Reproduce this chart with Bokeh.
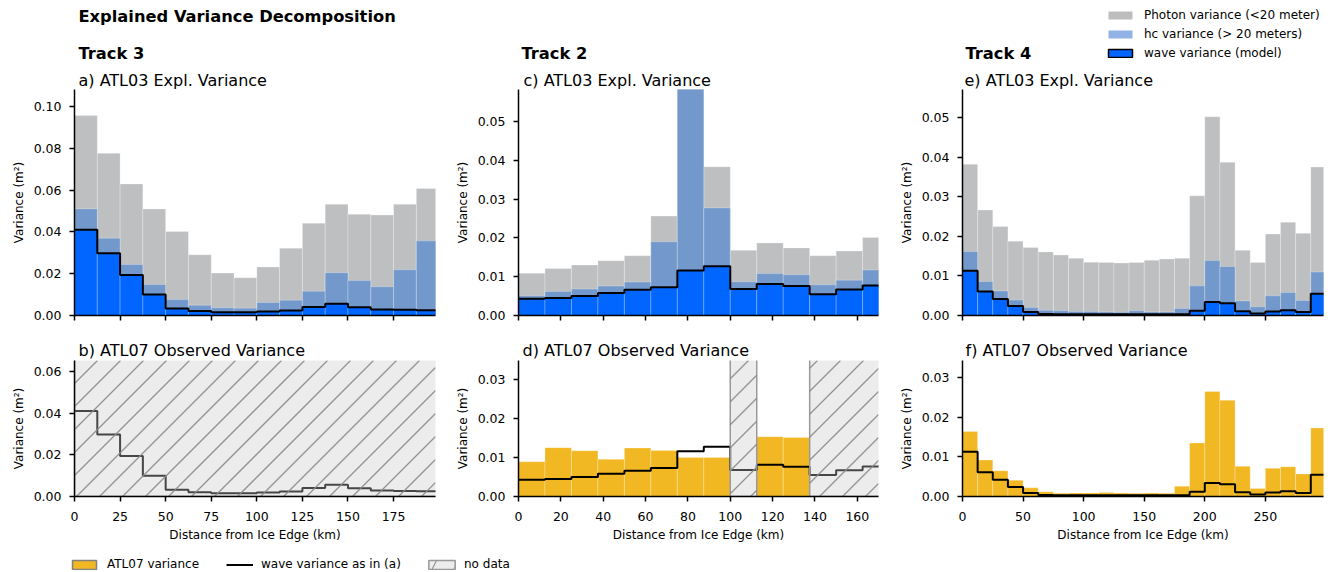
import numpy as np
from bokeh.plotting import figure
from bokeh.models import Label, Legend, LegendItem, Range1d, FixedTicker, NumeralTickFormatter
from bokeh.layouts import row, column
from bokeh.embed import file_html
from bokeh.resources import INLINE

FONT = "DejaVu Sans"
BIN_KM = 12.5
nan = float("nan")

# ---------------- data (variance, m^2, per 12.5 km bin) ----------------
# Track 3
t3_photon = [0.0957, 0.0776, 0.0629, 0.0510, 0.0402, 0.0290, 0.0203, 0.0181,
             0.0232, 0.0322, 0.0441, 0.0532, 0.0484, 0.0481, 0.0532, 0.0608]
t3_hc = [0.0510, 0.0370, 0.0244, 0.0148, 0.0076, 0.0049, 0.0037, 0.0035,
         0.0062, 0.0073, 0.0116, 0.0205, 0.0167, 0.0138, 0.0219, 0.0357]
t3_wave = [0.0410, 0.0298, 0.0194, 0.0100, 0.0033, 0.0021, 0.0016, 0.0016,
           0.0019, 0.0024, 0.0041, 0.0056, 0.0040, 0.0029, 0.0027, 0.0025]
t3_atl07 = [nan] * 16

# Track 2
t2_photon = [0.0109, 0.0121, 0.0130, 0.0141, 0.0154, 0.0256, 0.0650, 0.0383,
             0.0168, 0.0187, 0.0174, 0.0154, 0.0166, 0.0201]
t2_hc = [0.0051, 0.0062, 0.0068, 0.0076, 0.0086, 0.0190, 0.0620, 0.0277,
         0.0087, 0.0108, 0.0105, 0.0079, 0.0091, 0.0117]
t2_wave = [0.0043, 0.0045, 0.0050, 0.0058, 0.0066, 0.0073, 0.0116, 0.0127,
           0.0068, 0.0081, 0.0076, 0.0055, 0.0067, 0.0077]
t2_atl07 = [0.0089, 0.0125, 0.0117, 0.0095, 0.0124, 0.0118, 0.0100, 0.0100,
            nan, 0.0153, 0.0151, nan, nan, nan]

# Track 4
t4_photon = [0.0383, 0.0267, 0.0225, 0.0188, 0.0172, 0.0161, 0.0153, 0.0145,
             0.0135, 0.0134, 0.0133, 0.0134, 0.0140, 0.0143, 0.0145, 0.0303,
             0.0503, 0.0388, 0.0165, 0.0134, 0.0206, 0.0236, 0.0208, 0.0376]
t4_hc = [0.0162, 0.0086, 0.0062, 0.0039, 0.0020, 0.0013, 0.0012, 0.0010,
         0.0010, 0.0009, 0.0008, 0.0012, 0.0009, 0.0009, 0.0018, 0.0075,
         0.0139, 0.0124, 0.0037, 0.0022, 0.0050, 0.0058, 0.0038, 0.0110]
t4_wave = [0.0113, 0.0061, 0.0042, 0.0024, 0.0009, 0.0004, 0.0003, 0.0003,
           0.0003, 0.0003, 0.0003, 0.0003, 0.0003, 0.0003, 0.0003, 0.0012,
           0.0034, 0.0031, 0.0011, 0.0005, 0.0010, 0.0013, 0.0009, 0.0055]
t4_atl07 = [0.0164, 0.0092, 0.0065, 0.0041, 0.0022, 0.0012, 0.0008, 0.0009,
            0.0009, 0.0010, 0.0009, 0.0008, 0.0009, 0.0008, 0.0026, 0.0135,
            0.0265, 0.0243, 0.0076, 0.0020, 0.0071, 0.0075, 0.0057, 0.0173]

main_title = "Explained Variance Decomposition"
track_names = ["Track 3", "Track 2", "Track 4"]
top_titles = ["a) ATL03 Expl. Variance", "c) ATL03 Expl. Variance", "e)  ATL03 Expl. Variance"]
bot_titles = ["b) ATL07 Observed Variance", "d) ATL07 Observed Variance", "f)  ATL07 Observed Variance"]
x_max = [198, 170, 298]
x_ticks = [[0, 25, 50, 75, 100, 125, 150, 175], [0, 20, 40, 60, 80, 100, 120, 140, 160],
           [0, 50, 100, 150, 200, 250]]
top_ymax = [0.1081, 0.0582, 0.0572]
top_yticks = [[0, 0.02, 0.04, 0.06, 0.08, 0.10], [0, 0.01, 0.02, 0.03, 0.04, 0.05],
              [0, 0.01, 0.02, 0.03, 0.04, 0.05]]
bot_ymax = [0.0653, 0.0348, 0.0343]
bot_yticks = [[0, 0.02, 0.04, 0.06], [0, 0.01, 0.02, 0.03], [0, 0.01, 0.02, 0.03]]

C_PHOTON = "#bebfc1"
C_HC = "#7399cc"
C_WAVE = "#0066ff"
C_ATL07 = "#f2b824"
C_NODATA = "#c8c8c8"
C_HATCH = "#8a8a8a"

# layout (px)
BORDER_L = [74, 66, 66]
FRAME_W = [361, 360, 361]
BORDER_R = [17, 18, 8]
COL_W = [l + f + r for l, f, r in zip(BORDER_L, FRAME_W, BORDER_R)]
TOTAL_W = sum(COL_W)
COL_X = [0, COL_W[0], COL_W[0] + COL_W[1]]
HEAD_H, TOP_FH, TOP_BB = 89, 226, 15
MID_H, BOT_FH, BOT_BB = 30, 136, 50
LEG_H = 25
HATCH_SPACING = 23  # px between hatch lines


def edges_of(vals):
    return np.arange(len(vals) + 1) * BIN_KM


def blank_fig(w, h):
    f = figure(width=w, height=h, min_border=0, x_range=Range1d(0, 1), y_range=Range1d(0, 1),
               output_backend="svg", toolbar_location=None, title=None)
    f.xaxis.visible = False
    f.yaxis.visible = False
    f.xgrid.visible = False
    f.ygrid.visible = False
    f.outline_line_color = None
    return f


def style(p, xticks, yticks, xlabels):
    p.xgrid.visible = False
    p.ygrid.visible = False
    p.outline_line_color = None
    p.xaxis.ticker = FixedTicker(ticks=xticks)
    p.yaxis.ticker = FixedTicker(ticks=yticks)
    p.yaxis.formatter = NumeralTickFormatter(format="0.00")
    for ax in (p.xaxis[0], p.yaxis[0]):
        ax.axis_line_width = 1.5
        ax.axis_line_color = "black"
        ax.major_tick_line_width = 1.5
        ax.major_tick_line_color = "black"
        ax.major_tick_out = 5
        ax.major_tick_in = 0
        ax.minor_tick_line_color = None
        ax.major_label_text_font = FONT
        ax.major_label_text_font_size = "12.5px"
        ax.major_label_text_color = "black"
        ax.axis_label_text_font = FONT
        ax.axis_label_text_font_size = "12px"
        ax.axis_label_text_font_style = "normal"
        ax.axis_label_text_color = "black"
    p.yaxis.axis_label = "Variance (m²)"
    p.yaxis.major_label_standoff = 8
    p.yaxis.axis_label_standoff = 5
    if xlabels:
        p.xaxis.axis_label = "Distance from Ice Edge (km)"
        p.xaxis.major_label_standoff = 10
        p.xaxis.axis_label_standoff = 4
    else:
        p.xaxis.major_label_text_font_size = "1px"
        p.xaxis.major_label_text_color = None
        p.xaxis.major_label_standoff = 0


def add_label(p, x, y, text, bold=False, size="16px"):
    p.add_layout(Label(x=x, y=y, x_units="screen", y_units="screen", text=text,
                       text_font=FONT, text_font_size=size,
                       text_font_style="bold" if bold else "normal",
                       text_baseline="alphabetic", text_align="left", text_color="black"))


def step_line(p, vals):
    e = edges_of(vals)
    p.step(x=list(e), y=list(vals) + [vals[-1]], mode="after", line_color="black", line_width=2)


def nodata_spans(vals):
    e = edges_of(vals)
    spans, start = [], None
    for i, v in enumerate(vals):
        if np.isnan(v):
            if start is None:
                start = e[i]
        elif start is not None:
            spans.append((start, e[i]))
            start = None
    if start is not None:
        spans.append((start, e[len(vals)]))
    return spans


def hatch_segments(spans, xmax, ymax, fw, fh, s=HATCH_SPACING):
    """45-degree (on screen) diagonal lines clipped to each no-data span."""
    kx, ky = xmax / fw, ymax / fh
    x0s, y0s, x1s, y1s = [], [], [], []
    for a, b in spans:
        pa, pb = a / kx, min(b, xmax) / kx
        for c in np.arange(-fh - s, fw + s, s):
            st, en = max(pa, c), min(pb, c + fh)
            if st < en:
                x0s.append(st * kx); y0s.append((st - c) * ky)
                x1s.append(en * kx); y1s.append((en - c) * ky)
    return x0s, y0s, x1s, y1s


tracks = [(t3_photon, t3_hc, t3_wave, t3_atl07),
          (t2_photon, t2_hc, t2_wave, t2_atl07),
          (t4_photon, t4_hc, t4_wave, t4_atl07)]

# ---- header strip: main title, track names, panel titles a/c/e, top legend
head = blank_fig(TOTAL_W, HEAD_H)
add_label(head, 78, HEAD_H - 16, main_title, bold=True, size="16.3px")
for k in range(3):
    fx = COL_X[k] + BORDER_L[k]
    add_label(head, fx + (4 if k == 0 else 3), HEAD_H - 53, track_names[k], bold=True, size="16.3px")
    add_label(head, fx + (4 if k == 0 else (5 if k == 1 else 2)), HEAD_H - 80, top_titles[k])
nan1 = [nan]
r_ph = head.quad(left=nan1, right=nan1, bottom=nan1, top=nan1, fill_color="#bdbdbd", line_color=None)
r_hc = head.quad(left=nan1, right=nan1, bottom=nan1, top=nan1, fill_color="#92b1e4", line_color=None)
r_wv = head.quad(left=nan1, right=nan1, bottom=nan1, top=nan1, fill_color=C_WAVE,
                 line_color="black", line_width=1.5)
head.add_layout(Legend(items=[LegendItem(label="Photon variance (<20 meter)", renderers=[r_ph]),
                              LegendItem(label="hc variance (> 20 meters)", renderers=[r_hc]),
                              LegendItem(label="wave variance (model)", renderers=[r_wv])],
                       location=(1105, 29), orientation="vertical", background_fill_alpha=0,
                       border_line_color=None, glyph_width=30, glyph_height=10, label_height=10,
                       spacing=5, padding=0, margin=0, label_standoff=9,
                       label_text_font=FONT, label_text_font_size="12px", label_text_color="black"))

# ---- middle strip: panel titles b/d/f
mid = blank_fig(TOTAL_W, MID_H)
for k in range(3):
    fx = COL_X[k] + BORDER_L[k]
    add_label(mid, fx + (4 if k < 2 else 3), 10, bot_titles[k])

top_figs, bot_figs = [], []
for k, (photon, hc, wave, atl07) in enumerate(tracks):
    e = edges_of(photon)
    p = figure(frame_width=FRAME_W[k], frame_height=TOP_FH, min_border_left=BORDER_L[k],
               min_border_right=BORDER_R[k], min_border_top=0, min_border_bottom=TOP_BB,
               x_range=Range1d(0, x_max[k]), y_range=Range1d(0, top_ymax[k]),
               output_backend="svg", toolbar_location=None, title=None)
    for vals, col in ((photon, C_PHOTON), (hc, C_HC), (wave, C_WAVE)):
        p.quad(left=e[:-1], right=e[1:], bottom=0, top=vals, fill_color=col,
               line_color="white", line_alpha=0.25, line_width=1)
    step_line(p, wave)
    style(p, x_ticks[k], top_yticks[k], False)
    top_figs.append(p)

    q = figure(frame_width=FRAME_W[k], frame_height=BOT_FH, min_border_left=BORDER_L[k],
               min_border_right=BORDER_R[k], min_border_top=0, min_border_bottom=BOT_BB,
               x_range=Range1d(0, x_max[k]), y_range=Range1d(0, bot_ymax[k]),
               output_backend="svg", toolbar_location=None, title=None)
    a = np.array(atl07, dtype=float)
    ok = ~np.isnan(a)
    if ok.any():
        q.quad(left=e[:-1][ok], right=e[1:][ok], bottom=0, top=a[ok], fill_color=C_ATL07,
               line_color="white", line_alpha=0.25, line_width=1)
    step_line(q, wave)
    spans = nodata_spans(atl07)
    if spans:
        q.quad(left=[s[0] for s in spans], right=[s[1] for s in spans], bottom=0,
               top=bot_ymax[k] * 2, fill_color=C_NODATA, fill_alpha=0.35,
               line_color="#999999", line_width=1.5)
        sx0, sy0, sx1, sy1 = hatch_segments(spans, x_max[k], bot_ymax[k], FRAME_W[k], BOT_FH)
        q.segment(x0=sx0, y0=sy0, x1=sx1, y1=sy1, line_color=C_HATCH, line_alpha=0.9,
                  line_width=1.3)
    style(q, x_ticks[k], bot_yticks[k], True)
    bot_figs.append(q)

# ---- bottom legend strip
lg = blank_fig(TOTAL_W, LEG_H)
r_y = lg.quad(left=nan1, right=nan1, bottom=nan1, top=nan1, fill_color=C_ATL07,
              line_color="#808080", line_width=1.5)
r_l = lg.line(x=nan1, y=nan1, line_color="black", line_width=2)
r_h = lg.quad(left=nan1, right=nan1, bottom=nan1, top=nan1, fill_color=C_NODATA, fill_alpha=0.35,
              hatch_pattern="/", hatch_color=C_HATCH, hatch_alpha=0.9, hatch_scale=44,
              hatch_weight=1.2, line_color="#999999", line_width=1.5)
for lab, rend, vx, gw, so in (("ATL07 variance", r_y, 69, 30, 8),
                               ("wave variance as in (a)", r_l, 226, 27, 8),
                               ("no data", r_h, 425, 33, 6)):
    lg.add_layout(Legend(items=[LegendItem(label=lab, renderers=[rend])], location=(vx, 0),
                         orientation="horizontal", background_fill_alpha=0, border_line_color=None,
                         glyph_width=gw, glyph_height=11, label_height=11, padding=0, margin=0,
                         label_standoff=so, label_text_font=FONT, label_text_font_size="12px",
                         label_text_color="black"))

layout = column(head, row(*top_figs), mid, row(*bot_figs), lg)
open("out.html", "w").write(file_html(layout, INLINE))
